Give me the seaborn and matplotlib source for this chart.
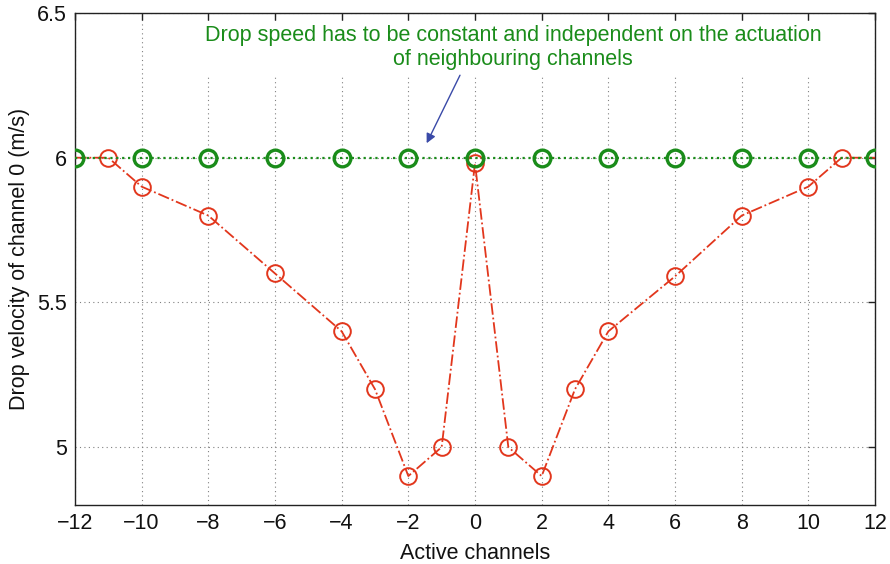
import matplotlib
matplotlib.use("Agg")
import matplotlib.pyplot as plt
import seaborn as sns
import pandas as pd

# Measured drop velocity of channel 0 versus which neighbouring channel is active
active_ch = [-12, -11, -10, -8, -6, -4, -3, -2, -1, 0, 1, 2, 3, 4, 6, 8, 10, 11, 12]
velocity = [6.0, 6.0, 5.9, 5.8, 5.6, 5.4, 5.2, 4.9, 5.0, 5.98, 5.0, 4.9, 5.2, 5.4, 5.59, 5.8, 5.9, 6.0, 6.0]

# Target behaviour: constant speed
target_ch = [-12, -10, -8, -6, -4, -2, 0, 2, 4, 6, 8, 10, 12]
target_vel = [6.0] * len(target_ch)

x_ticks = [-12, -10, -8, -6, -4, -2, 0, 2, 4, 6, 8, 10, 12]
x_ticklabels = ["\u221212", "\u221210", "\u22128", "\u22126", "\u22124", "\u22122",
                "0", "2", "4", "6", "8", "10", "12"]
y_ticks = [5.0, 5.5, 6.0, 6.5]
y_ticklabels = ["5", "5.5", "6", "6.5"]

sns.set_theme(style="white")
plt.rcParams["font.family"] = ["Liberation Sans", "DejaVu Sans"]

fig = plt.figure(figsize=(8.9, 5.64), dpi=100)
ax = fig.add_axes([75 / 890, 59 / 564, 800 / 890, 492 / 564])

measured = pd.DataFrame({"ch": active_ch, "v": velocity})
target = pd.DataFrame({"ch": target_ch, "v": target_vel})

red = "#e2361c"
green = "#1a8c1a"

sns.lineplot(data=measured, x="ch", y="v", ax=ax, color=red, linestyle="-.",
             linewidth=1.3, marker="o", markersize=12, markerfacecolor="none",
             markeredgecolor=red, markeredgewidth=1.4, zorder=3)
sns.lineplot(data=target, x="ch", y="v", ax=ax, color=green, linestyle=":",
             linewidth=1.6, marker="o", markersize=12, markerfacecolor="none",
             markeredgecolor=green, markeredgewidth=2.4, zorder=4)

ax.set_xlim(-12, 12)
ax.set_ylim(4.8, 6.5)
ax.set_xticks(x_ticks)
ax.set_xticklabels(x_ticklabels)
ax.set_yticks(y_ticks)
ax.set_yticklabels(y_ticklabels)

ax.grid(True, linestyle=(0, (1, 3)), color="#808080", linewidth=0.8)
ax.set_axisbelow(True)
for s in ax.spines.values():
    s.set_visible(True)
    s.set_color("#222222")
    s.set_linewidth(1.0)

ax.tick_params(axis="both", direction="in", length=5, width=1.0, color="#222222",
               labelsize=15.5, labelcolor="#111111", top=True, right=True, pad=6)

ax.set_xlabel("Active channels", fontsize=15.5, color="#111111", labelpad=6)
ax.set_ylabel("Drop velocity of channel 0 (m/s)", fontsize=15.5, color="#111111", labelpad=5)

# Note text with a white box hiding the grid behind it
ax.text(1.15, 6.38,
        "Drop speed has to be constant and independent on the actuation\nof neighbouring channels",
        ha="center", va="center", fontsize=15.5, color=green, linespacing=1.2,
        bbox=dict(boxstyle="square,pad=0.2", facecolor="white", edgecolor="none"),
        zorder=5)

# Arrow pointing at the constant-speed line
ax.annotate("", xy=(-1.45, 6.05), xytext=(-0.45, 6.285),
            arrowprops=dict(arrowstyle="-|>", color="#3a4aa8", linewidth=1.0,
                            mutation_scale=14, shrinkA=0, shrinkB=0),
            zorder=6)

fig.savefig("out.png", dpi=100)
